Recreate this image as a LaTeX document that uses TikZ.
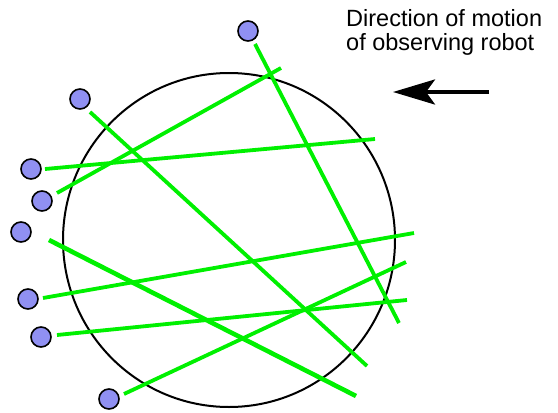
\documentclass[tikz,border=0pt]{standalone}
\usepackage{fontspec}
\setmainfont{Liberation Sans}
\usetikzlibrary{arrows.meta}
\definecolor{dotblue}{HTML}{9090F2}
\definecolor{raygreen}{HTML}{00F000}
\begin{document}
\begin{tikzpicture}[x=1pt,y=-1pt,
  robot/.style={circle,draw=black,line width=1.6pt,fill=dotblue,minimum size=20pt,inner sep=0pt},
  ray/.style={draw=raygreen,line width=3.8pt},
  motion/.style={line width=4pt,-{Stealth[length=42pt,width=25pt,inset=9pt]}}]
\useasboundingbox (0,0) rectangle (558,413);
\draw[line width=2pt] (229,240) ellipse (166 and 167);
% dots
\node[robot] (d1) at (248,31) {};
\node[robot] (d2) at (80,99) {};
\node[robot] (d3) at (31,169) {};
\node[robot] (d4) at (42,201) {};
\node[robot] (d5) at (21,232) {};
\node[robot] (d6) at (28,299) {};
\node[robot] (d7) at (41,337) {};
\node[robot] (d8) at (109,399) {};
% ray ends
\coordinate (s1) at (255,44);  \coordinate (e1) at (399,323);
\coordinate (s2) at (90,112);  \coordinate (e2) at (367,366);
\coordinate (s3) at (45,169);  \coordinate (e3) at (375,139);
\coordinate (s4) at (57,193);  \coordinate (e4) at (281,68);
\coordinate (s5) at (49,240);  \coordinate (e5) at (356,396);
\coordinate (s6) at (43,298);  \coordinate (e6) at (414,233);
\coordinate (s7) at (57,335);  \coordinate (e7) at (407,300);
\coordinate (s8) at (124,394); \coordinate (e8) at (406,262);
\draw[ray] (s1) -- (e1);
\draw[ray] (s2) -- (e2);
\draw[ray] (s3) -- (e3);
\draw[ray] (s4) -- (e4);
\draw[ray,line width=4.6pt] (s5) -- (e5);
\draw[ray] (s6) -- (e6);
\draw[ray] (s7) -- (e7);
\draw[ray] (s8) -- (e8);
% arrow and label
\coordinate (a1) at (489,92);
\coordinate (a2) at (393,92);
\draw[motion] (a1) -- (a2);
\node[anchor=north west,inner sep=0pt,align=left,font=\fontsize{23.5}{24}\selectfont] (lbl) at (346,9) {Direction of motion\\of observing robot};
\end{tikzpicture}
\end{document}
